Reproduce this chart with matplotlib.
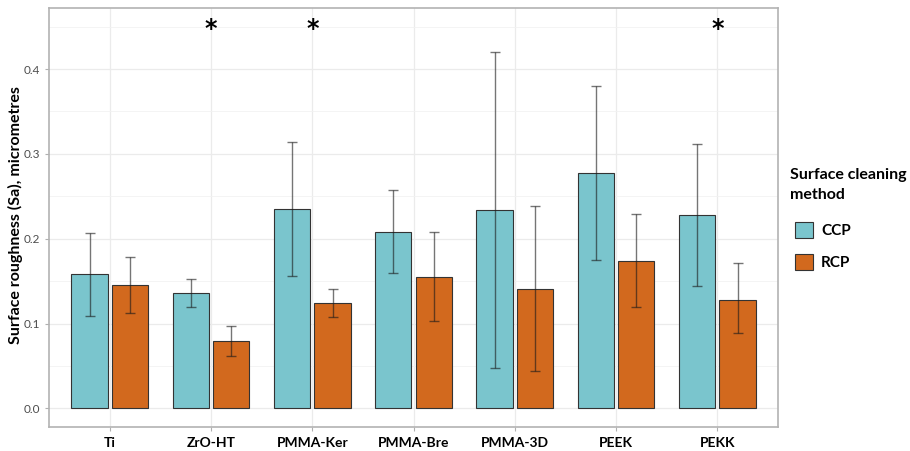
import matplotlib
matplotlib.use("Agg")
import matplotlib.pyplot as plt
from matplotlib.patches import Patch
import numpy as np

categories = ["Ti", "ZrO-HT", "PMMA-Ker", "PMMA-Bre", "PMMA-3D", "PEEK", "PEKK"]
ccp_mean = [0.158, 0.136, 0.235, 0.208, 0.234, 0.278, 0.228]
ccp_low = [0.109, 0.119, 0.156, 0.159, 0.048, 0.175, 0.144]
ccp_high = [0.207, 0.153, 0.314, 0.257, 0.420, 0.380, 0.312]
rcp_mean = [0.146, 0.079, 0.124, 0.155, 0.141, 0.174, 0.128]
rcp_low = [0.112, 0.062, 0.108, 0.103, 0.044, 0.119, 0.089]
rcp_high = [0.179, 0.097, 0.141, 0.208, 0.238, 0.229, 0.171]
significant = ["ZrO-HT", "PMMA-Ker", "PEKK"]
star_y = 0.447

ccp_color = "#7AC5CD"
rcp_color = "#D2691E"

plt.rcParams['font.family'] = ['Lato', 'DejaVu Sans']

fig = plt.figure(figsize=(9.10, 4.51), dpi=100)
ax = fig.add_axes([49/910, 1-427/451, (778-49)/910, (427-8)/451])

x = np.arange(1, len(categories)+1)
w = 0.36
off = 0.2
for means, lo, hi, col, dx in [(ccp_mean, ccp_low, ccp_high, ccp_color, -off),
                               (rcp_mean, rcp_low, rcp_high, rcp_color, off)]:
    ax.bar(x+dx, means, width=w, color=col, edgecolor="#333333", linewidth=0.8, zorder=3)
    m = np.array(means)
    yerr = np.vstack([m-np.array(lo), np.array(hi)-m])
    ax.errorbar(x+dx, m, yerr=yerr, fmt='none', ecolor=(0.1, 0.1, 0.1, 0.6),
                elinewidth=1.0, capsize=3.5, capthick=1.0, zorder=4)

for c in significant:
    i = categories.index(c)
    ax.text(x[i], star_y, "*", ha="center", va="center", fontsize=17, fontweight="bold",
            family=['DejaVu Sans'], zorder=5)

ax.set_xlim(0.4, 7.6)
ax.set_ylim(-0.022, 0.472)
ax.set_xticks(x)
ax.set_xticklabels(categories, fontsize=10, fontweight="bold")
ax.set_yticks([0.0, 0.1, 0.2, 0.3, 0.4])
ax.set_yticklabels(["0.0", "0.1", "0.2", "0.3", "0.4"], fontsize=8.5, color="#4D4D4D")
ax.set_yticks([0.05, 0.15, 0.25, 0.35, 0.45], minor=True)
ax.tick_params(axis="y", which="minor", length=0)
ax.tick_params(axis="both", which="major", length=3, color="#B0B0B0", width=0.8)
ax.tick_params(axis="x", pad=4)
ax.grid(True, which="major", color="#EBEBEB", linewidth=0.9, zorder=0)
ax.grid(True, which="minor", axis="y", color="#F2F2F2", linewidth=0.6, zorder=0)
ax.set_axisbelow(True)
for s in ax.spines.values():
    s.set_color("#B3B3B3")
    s.set_linewidth(1.2)

fig.text(15/910, 1-215/451, "Surface roughness (Sa), micrometres", fontsize=11.5,
         fontweight="bold", rotation=90, ha="center", va="center")

fig.text(790/910, 1-185/451, "Surface cleaning\nmethod", fontsize=11.5, fontweight="bold",
         ha="left", va="center", linespacing=1.55)
handles = [Patch(facecolor=ccp_color, edgecolor="#333333", linewidth=0.8, label="CCP"),
           Patch(facecolor=rcp_color, edgecolor="#333333", linewidth=0.8, label="RCP")]
leg = fig.legend(handles=handles, loc="upper left", bbox_to_anchor=(789/910, 1-216/451),
                 frameon=False, prop={"weight": "bold", "size": 11}, handlelength=1.2,
                 handleheight=1.2, labelspacing=1.05, handletextpad=0.5, borderaxespad=0)

fig.savefig("out.png", dpi=100)
